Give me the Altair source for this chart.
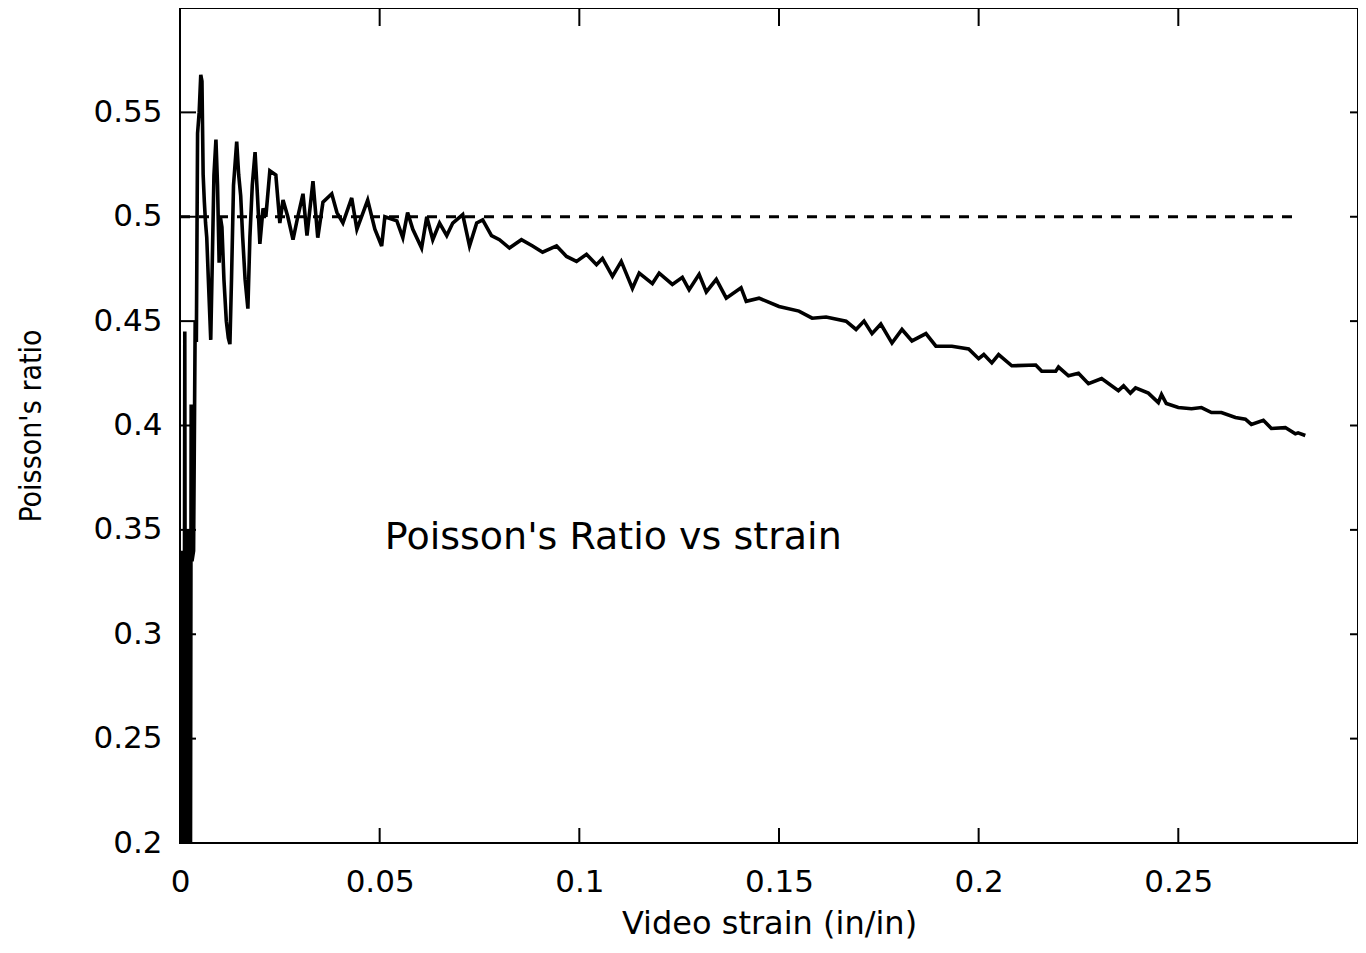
import altair as alt
import pandas as pd

# ---- data ----
strain = [
    0.0000, 0.0002, 0.0004, 0.0006, 0.0008, 0.0010, 0.0012, 0.0014, 0.0016, 0.0018,
    0.0020, 0.0022, 0.0024, 0.0026, 0.0028, 0.0030, 0.0034, 0.0038, 0.0041, 0.0044,
    0.0048, 0.0052, 0.0055, 0.0058, 0.0061, 0.0064, 0.0067, 0.0071, 0.0077, 0.0081,
    0.0085, 0.0090, 0.0094, 0.0098, 0.0101, 0.0105, 0.0110, 0.0116, 0.0121, 0.0125,
    0.0129, 0.0134, 0.0142, 0.0147, 0.0152, 0.0157, 0.0163, 0.0170, 0.0175, 0.0181,
    0.0188, 0.0194, 0.0200, 0.0208, 0.0215, 0.0225, 0.0240, 0.0250, 0.0258, 0.0270,
    0.0283, 0.0295, 0.0308, 0.0318, 0.0333, 0.0345, 0.0358, 0.0380, 0.0393, 0.0408,
    0.0430, 0.0443, 0.0470, 0.0488, 0.0505, 0.0513, 0.0543, 0.0558, 0.0570, 0.0583,
    0.0605, 0.0618, 0.0633, 0.0650, 0.0668, 0.0683, 0.0708, 0.0725, 0.0743, 0.0758,
    0.0780, 0.0800, 0.0825, 0.0855, 0.0883, 0.0908, 0.0943, 0.0968, 0.0993, 0.1018,
    0.1043, 0.1058, 0.1083, 0.1105, 0.1133, 0.1150, 0.1183, 0.1200, 0.1233, 0.1258,
    0.1275, 0.1300, 0.1318, 0.1343, 0.1368, 0.1405, 0.1418, 0.1450, 0.1500, 0.1550,
    0.1583, 0.1618, 0.1668, 0.1693, 0.1713, 0.1733, 0.1755, 0.1783, 0.1808, 0.1833,
    0.1868, 0.1893, 0.1933, 0.1975, 0.2000, 0.2013, 0.2033, 0.2050, 0.2083, 0.2143,
    0.2158, 0.2193, 0.2200, 0.2225, 0.2250, 0.2275, 0.2308, 0.2350, 0.2363, 0.2380,
    0.2393, 0.2425, 0.2450, 0.2458, 0.2470, 0.2500, 0.2533, 0.2558, 0.2583, 0.2608,
    0.2643, 0.2668, 0.2683, 0.2713, 0.2733, 0.2768, 0.2793, 0.2800, 0.2818,
]
poisson = [
    0.300, 0.120, 0.340, 0.100, 0.330, 0.150, 0.445, 0.120, 0.340, 0.140,
    0.350, 0.110, 0.340, 0.160, 0.410, 0.335, 0.340, 0.450, 0.440, 0.540,
    0.550, 0.568, 0.565, 0.520, 0.507, 0.497, 0.490, 0.470, 0.441, 0.480,
    0.520, 0.537, 0.515, 0.478, 0.500, 0.495, 0.470, 0.450, 0.442, 0.439,
    0.470, 0.515, 0.536, 0.520, 0.510, 0.490, 0.470, 0.456, 0.490, 0.515,
    0.531, 0.510, 0.487, 0.504, 0.500, 0.522, 0.520, 0.497, 0.508, 0.500,
    0.489, 0.500, 0.511, 0.491, 0.517, 0.490, 0.507, 0.511, 0.502, 0.497,
    0.509, 0.494, 0.508, 0.494, 0.486, 0.500, 0.498, 0.490, 0.502, 0.494,
    0.485, 0.500, 0.489, 0.497, 0.491, 0.497, 0.501, 0.486, 0.497, 0.4985,
    0.491, 0.489, 0.485, 0.489, 0.486, 0.483, 0.486, 0.481, 0.4786, 0.482,
    0.477, 0.480, 0.4714, 0.4786, 0.4657, 0.473, 0.468, 0.473, 0.4676, 0.471,
    0.465, 0.4724, 0.464, 0.470, 0.461, 0.466, 0.4595, 0.461, 0.457, 0.4548,
    0.4514, 0.452, 0.450, 0.446, 0.450, 0.444, 0.4486, 0.4395, 0.446, 0.4405,
    0.444, 0.438, 0.438, 0.4367, 0.432, 0.434, 0.430, 0.434, 0.4286, 0.429,
    0.426, 0.426, 0.428, 0.4238, 0.425, 0.420, 0.4225, 0.4167, 0.419, 0.4155,
    0.418, 0.4155, 0.411, 0.4148, 0.4105, 0.4086, 0.408, 0.4086, 0.4062, 0.4062,
    0.4038, 0.403, 0.4005, 0.4025, 0.3986, 0.399, 0.396, 0.3965, 0.3952,
]
ref_x = [0.0, 0.279]
ref_y = [0.5, 0.5]
x_ticks = [0, 0.05, 0.1, 0.15, 0.2, 0.25]
y_ticks = [0.2, 0.25, 0.3, 0.35, 0.4, 0.45, 0.5, 0.55]
y_inner_ticks = [0.25, 0.3, 0.35, 0.4, 0.45, 0.5, 0.55]
x_inner_ticks = [0.05, 0.1, 0.15, 0.2, 0.25]
note_text = "Poisson's Ratio vs strain"
note_x = 0.0513
note_y = 0.346

W, H = 1178, 835
xs = alt.Scale(domain=[0, 0.295], nice=False, zero=False)
ys = alt.Scale(domain=[0.2, 0.6], nice=False, zero=False)

LABEL_FONT = "DejaVu Sans"

main = pd.DataFrame({"x": strain, "y": poisson})
ref = pd.DataFrame({"x": ref_x, "y": ref_y})

xaxis = alt.Axis(values=x_ticks, format="~g", grid=False, domain=False, ticks=False,
                 tickSize=0, labelFont=LABEL_FONT, labelFontSize=31, labelPadding=24,
                 labelColor="black", title="Video strain (in/in)", titleFont="DejaVu Sans",
                 titleFontSize=32, titleFontWeight="normal", titleColor="black",
                 titlePadding=11, labelFlush=False)
yaxis = alt.Axis(values=y_ticks, format="~g", grid=False, domain=False, ticks=False,
                 tickSize=0, labelFont=LABEL_FONT, labelFontSize=31, labelPadding=18,
                 labelColor="black", title="Poisson's ratio",
                 titleFont="DejaVu Sans Condensed",
                 titleFontSize=30, titleFontWeight="normal", titleColor="black",
                 titlePadding=46, labelFlush=False)

line = alt.Chart(main).mark_line(color="black", strokeWidth=3.6, clip=True,
                                 strokeJoin="miter", interpolate="linear").encode(
    x=alt.X("x:Q", scale=xs, axis=xaxis),
    y=alt.Y("y:Q", scale=ys, axis=yaxis),
    order=alt.Order("x:Q"),
)

dash = alt.Chart(ref).mark_line(color="black", strokeWidth=3, strokeDash=[10, 9]).encode(
    x=alt.X("x:Q", scale=xs), y=alt.Y("y:Q", scale=ys)
)

note = alt.Chart(pd.DataFrame({"x": [note_x], "y": [note_y], "t": [note_text]})).mark_text(
    align="left", baseline="middle", fontSize=38, font="DejaVu Sans", color="black"
).encode(x=alt.X("x:Q", scale=xs), y=alt.Y("y:Q", scale=ys), text="t:N")

ydf = pd.DataFrame({"y": y_inner_ticks})
xdf = pd.DataFrame({"x": x_inner_ticks})
left_ticks = alt.Chart(ydf).mark_rule(color="black", strokeWidth=2).encode(
    y=alt.Y("y:Q", scale=ys), x=alt.value(0), x2=alt.value(16))
right_ticks = alt.Chart(ydf).mark_rule(color="black", strokeWidth=2).encode(
    y=alt.Y("y:Q", scale=ys), x=alt.value(W - 8), x2=alt.value(W))
top_ticks = alt.Chart(xdf).mark_rule(color="black", strokeWidth=2).encode(
    x=alt.X("x:Q", scale=xs), y=alt.value(0), y2=alt.value(18))
bottom_ticks = alt.Chart(xdf).mark_rule(color="black", strokeWidth=2).encode(
    x=alt.X("x:Q", scale=xs), y=alt.value(H - 15), y2=alt.value(H))

chart = alt.layer(dash, line, note, left_ticks, right_ticks, top_ticks, bottom_ticks).properties(
    width=W, height=H,
    autosize=alt.AutoSizeParams(type="none"),
    padding={"left": 172, "top": 0, "right": 0, "bottom": 101},
    background="white",
).configure_view(stroke="black", strokeWidth=2)

chart.save("out.html", embed_options={"renderer": "svg", "actions": False})
